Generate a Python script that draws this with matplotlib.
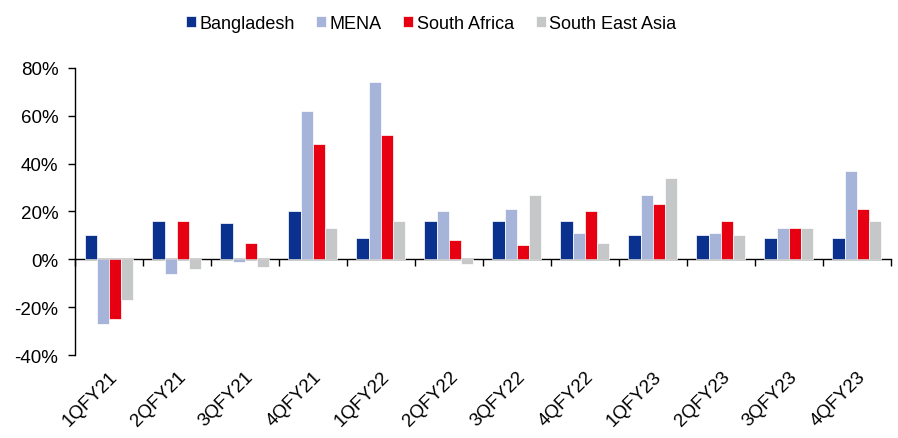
import numpy as np
import matplotlib
matplotlib.use("Agg")
import matplotlib.pyplot as plt
from matplotlib.ticker import PercentFormatter

# ---------------------------
# Data
# ---------------------------
quarters = ["1QFY21", "2QFY21", "3QFY21", "4QFY21", "1QFY22", "2QFY22",
            "3QFY22", "4QFY22", "1QFY23", "2QFY23", "3QFY23", "4QFY23"]
bangladesh = [10, 16, 15, 20, 9, 16, 16, 16, 10, 10, 9, 9]
mena = [-27, -6, -1, 62, 74, 20, 21, 11, 27, 11, 13, 37]
south_africa = [-25, 16, 7, 48, 52, 8, 6, 20, 23, 16, 13, 21]
south_east_asia = [-17, -4, -3, 13, 16, -2, 27, 7, 34, 10, 13, 16]

series_names = ["Bangladesh", "MENA", "South Africa", "South East Asia"]
colors = ["#0A318E", "#A7B4DA", "#E60012", "#C6C7C9"]

plt.rcParams["font.family"] = ["Liberation Sans", "DejaVu Sans"]
plt.rcParams["font.size"] = 13.5
plt.rcParams["axes.unicode_minus"] = False

# ---------------------------
# Plot
# ---------------------------
fig = plt.figure(figsize=(8.98, 4.39), dpi=100)
ax = fig.add_axes([0.0835, 0.189, 0.9085, 0.654])

x = np.arange(len(quarters))
width = 0.18
all_series = [bangladesh, mena, south_africa, south_east_asia]
for i, (vals, name, c) in enumerate(zip(all_series, series_names, colors)):
    ax.bar(x + (i - 1.5) * width, vals, width, color=c, label=name,
           edgecolor="white", linewidth=0.5)

ymin, ymax = -40, 80
ax.set_ylim(ymin, ymax)
ax.set_xlim(-0.5, len(quarters) - 0.5)
ax.set_yticks(np.arange(ymin, ymax + 1, 20))
ax.yaxis.set_major_formatter(PercentFormatter(decimals=0))
ax.tick_params(axis="y", direction="out", length=5, width=1, pad=7)

# labels at the bottom, no tick marks there
ax.set_xticks(x)
ax.set_xticklabels(quarters, rotation=45, ha="right", rotation_mode="anchor")
ax.tick_params(axis="x", length=0, pad=9)

for s in ["top", "right", "bottom"]:
    ax.spines[s].set_visible(False)
ax.spines["left"].set_linewidth(1)

# zero line with category separators
zero_pos = (0 - ymin) / (ymax - ymin)
sec = ax.secondary_xaxis(zero_pos)
sec.set_xticks(np.arange(-0.5, len(quarters), 1.0))
sec.set_xticklabels([])
sec.tick_params(direction="out", length=5, width=1)
sec.spines["bottom"].set_linewidth(1)

fig.legend(loc="upper center", bbox_to_anchor=(0.48, 1.0), ncol=4,
           frameon=False, fontsize=13, handlelength=0.55, handleheight=0.55,
           handletextpad=0.2, columnspacing=1.2)

fig.savefig("out.png", dpi=100)
